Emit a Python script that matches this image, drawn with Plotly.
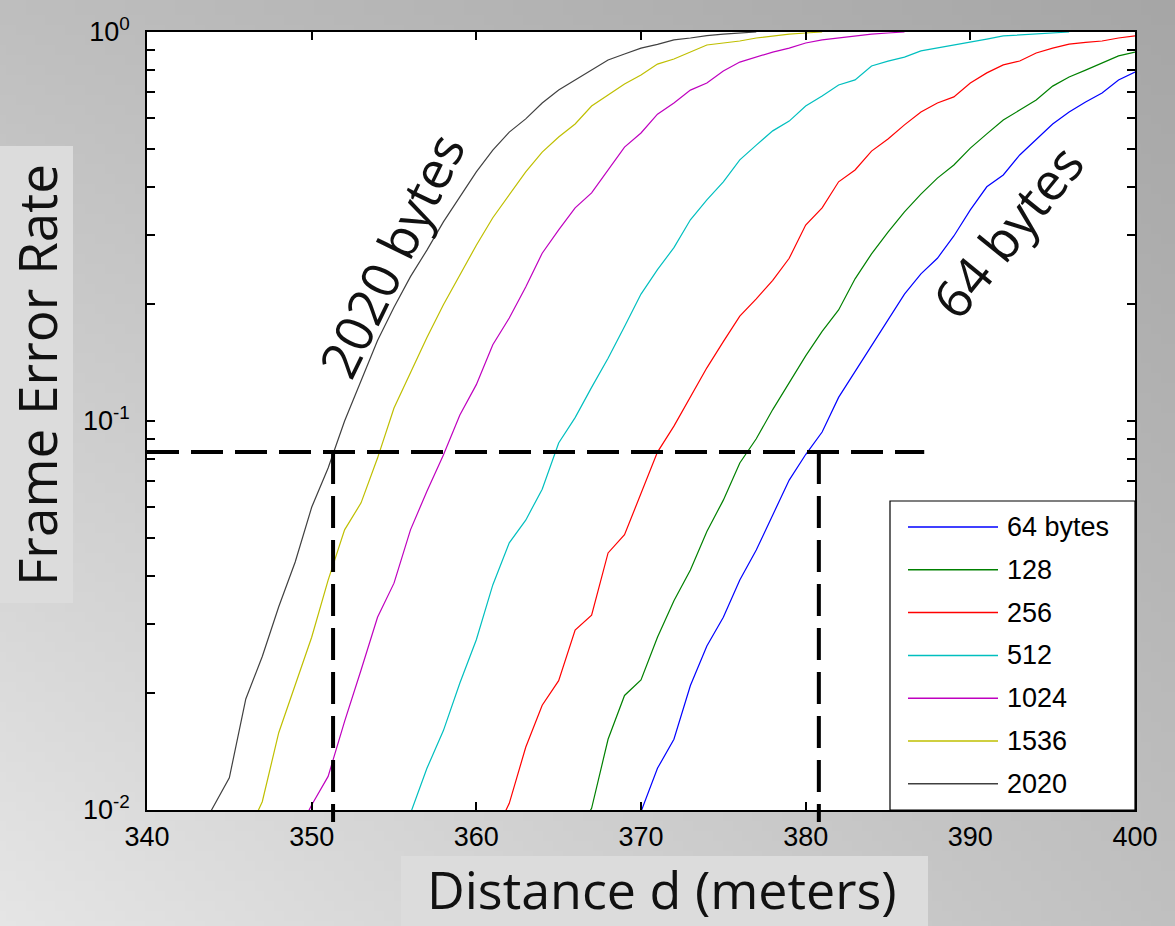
import base64
import math
import struct
import zlib

import plotly.graph_objects as go

# ---------------- data ----------------
labels = ["64 bytes", "128", "256", "512", "1024", "1536", "2020"]
colors = ["#0000ff", "#008000", "#ff0000", "#00bfbf", "#bf00bf", "#bfbf00", "#404040"]

d_64 = list(range(369, 401))
fer_64 = [0.0085, 0.0099, 0.0128, 0.0152, 0.0209, 0.0264, 0.0313, 0.039, 0.0466, 0.0573,
          0.0705, 0.082, 0.0937, 0.115, 0.134, 0.157, 0.182, 0.212, 0.239, 0.262,
          0.299, 0.349, 0.400, 0.429, 0.483, 0.528, 0.580, 0.623, 0.661, 0.697,
          0.753, 0.789]

d_128 = list(range(366, 401))
fer_128 = [0.0085, 0.0101, 0.0152, 0.0197, 0.0216, 0.0278, 0.0345, 0.0414, 0.052, 0.0626,
           0.078, 0.090, 0.107, 0.125, 0.147, 0.170, 0.193, 0.232, 0.269, 0.306,
           0.345, 0.383, 0.421, 0.455, 0.503, 0.547, 0.594, 0.630, 0.669, 0.726,
           0.766, 0.798, 0.832, 0.868, 0.888]

d_256 = list(range(361, 401))
fer_256 = [0.0085, 0.0104, 0.0145, 0.0186, 0.0215, 0.029, 0.0317, 0.0458, 0.051, 0.065,
           0.0832, 0.097, 0.115, 0.137, 0.160, 0.186, 0.206, 0.230, 0.262, 0.319,
           0.353, 0.412, 0.442, 0.494, 0.531, 0.577, 0.623, 0.657, 0.681, 0.739,
           0.785, 0.823, 0.842, 0.883, 0.909, 0.931, 0.940, 0.948, 0.965, 0.977]

d_512 = list(range(355, 397))
fer_512 = [0.0085, 0.0098, 0.0128, 0.016, 0.0212, 0.0274, 0.0379, 0.0486, 0.0556, 0.0668,
           0.0878, 0.102, 0.122, 0.145, 0.175, 0.212, 0.245, 0.279, 0.329, 0.370,
           0.412, 0.469, 0.512, 0.557, 0.590, 0.645, 0.685, 0.731, 0.753, 0.818,
           0.842, 0.862, 0.894, 0.909, 0.926, 0.942, 0.959, 0.977, 0.982, 0.988,
           0.994, 1.0]

d_1024 = list(range(349, 387))
fer_1024 = [0.0085, 0.0103, 0.0122, 0.0169, 0.0229, 0.0313, 0.0383, 0.0525, 0.066, 0.0818,
            0.1036, 0.124, 0.157, 0.184, 0.221, 0.270, 0.310, 0.353, 0.386, 0.442,
            0.506, 0.550, 0.615, 0.657, 0.709, 0.739, 0.794, 0.837, 0.862, 0.888,
            0.909, 0.937, 0.954, 0.965, 0.979, 0.988, 0.994, 1.0]

d_1536 = list(range(346, 382))
fer_1536 = [0.0085, 0.0105, 0.0158, 0.021, 0.0278, 0.039, 0.0525, 0.0616, 0.0803, 0.108,
            0.133, 0.164, 0.199, 0.237, 0.283, 0.333, 0.382, 0.437, 0.491, 0.537,
            0.580, 0.645, 0.689, 0.735, 0.775, 0.827, 0.852, 0.888, 0.926, 0.937,
            0.948, 0.965, 0.977, 0.988, 0.994, 1.0]

d_2020 = list(range(343, 378))
fer_2020 = [0.0085, 0.0101, 0.0121, 0.0193, 0.0248, 0.0333, 0.0434, 0.060, 0.0757, 0.100,
            0.127, 0.161, 0.196, 0.235, 0.275, 0.325, 0.377, 0.437, 0.497, 0.553,
            0.598, 0.657, 0.709, 0.753, 0.798, 0.847, 0.878, 0.909, 0.929, 0.954,
            0.965, 0.979, 0.988, 0.994, 1.0]

distances = [d_64, d_128, d_256, d_512, d_1024, d_1536, d_2020]
fers = [fer_64, fer_128, fer_256, fer_512, fer_1024, fer_1536, fer_2020]

x_ticks = [340, 350, 360, 370, 380, 390, 400]
y_ticks = [0.01, 0.1, 1]
y_ticktext = ["10<sup>-2</sup>", "10<sup>-1</sup>", "10<sup>0</sup>"]
y_minor = [0.02, 0.03, 0.04, 0.05, 0.06, 0.07, 0.08, 0.09,
           0.2, 0.3, 0.4, 0.5, 0.6, 0.7, 0.8, 0.9]

fer_threshold = 0.0832      # dashed horizontal reference level
d_cut_2020 = 351.3          # distance where 2020 bytes hits the threshold
d_cut_64 = 380.8            # distance where 64 bytes hits the threshold
d_hline_end = 387.2

# ---------------- geometry ----------------
W, H = 1175, 926
ML, MR, MT, MB = 147, 40, 32, 116
PW, PH = W - ML - MR, H - MT - MB
X_RANGE = (340, 400)
Y_RANGE = (-2, 0)


def px_x(px):
    return (px - ML) / PW


def px_y(py):
    return (H - MB - py) / PH


def dx(d):
    return (d - X_RANGE[0]) / (X_RANGE[1] - X_RANGE[0])


def fy(f):
    return (math.log10(f) - Y_RANGE[0]) / (Y_RANGE[1] - Y_RANGE[0])


# ---------------- background gradient (pure-python PNG) ----------------
def make_png(w, h, rows):
    def chunk(tag, data):
        return (struct.pack(">I", len(data)) + tag + data +
                struct.pack(">I", zlib.crc32(tag + data) & 0xFFFFFFFF))
    raw = b"".join(b"\x00" + bytes(r) for r in rows)
    return (b"\x89PNG\r\n\x1a\n" +
            chunk(b"IHDR", struct.pack(">IIBBBBB", w, h, 8, 0, 0, 0, 0)) +
            chunk(b"IDAT", zlib.compress(raw)) + chunk(b"IEND", b""))


GW, GH = 118, 93
TL, TR, BL, BR = 190, 166, 229, 192
rows = []
for j in range(GH):
    v = j / (GH - 1)
    row = []
    for i in range(GW):
        u = i / (GW - 1)
        val = (TL * (1 - u) * (1 - v) + TR * u * (1 - v) + BL * (1 - u) * v + BR * u * v)
        row.append(int(round(val)))
    rows.append(row)
bg_src = "data:image/png;base64," + base64.b64encode(make_png(GW, GH, rows)).decode()

# ---------------- figure ----------------
fig = go.Figure()
for d, f, name, c in zip(distances, fers, labels, colors):
    fig.add_trace(go.Scatter(x=d, y=f, mode="lines", name=name,
                             line=dict(color=c, width=1.2), showlegend=False))

shapes = []
# white plot area over the gradient
shapes.append(dict(type="rect", xref="paper", yref="paper", x0=0, x1=1, y0=0, y1=1,
                   fillcolor="white", line=dict(width=0), layer="below"))
# axis-title boxes
shapes.append(dict(type="rect", xref="paper", yref="paper",
                   x0=px_x(0), x1=px_x(73), y0=px_y(603), y1=px_y(146),
                   fillcolor="#dcdcdc", line=dict(width=0), layer="below"))
shapes.append(dict(type="rect", xref="paper", yref="paper",
                   x0=px_x(401), x1=px_x(928), y0=px_y(926), y1=px_y(856),
                   fillcolor="#dcdcdc", line=dict(width=0), layer="below"))
# dashed reference lines
dash_style = dict(color="black", width=4, dash="32px,12px")
shapes.append(dict(type="line", xref="paper", yref="paper",
                   x0=0, x1=dx(d_hline_end), y0=fy(fer_threshold), y1=fy(fer_threshold),
                   line=dash_style, layer="above"))
for dc in (d_cut_2020, d_cut_64):
    shapes.append(dict(type="line", xref="paper", yref="paper",
                       x0=dx(dc), x1=dx(dc), y0=fy(fer_threshold), y1=px_y(822),
                       line=dash_style, layer="above"))
# manual legend
shapes.append(dict(type="rect", xref="paper", yref="paper",
                   x0=px_x(890), x1=1.0, y0=0.0, y1=px_y(501),
                   fillcolor="white", line=dict(color="black", width=1.2), layer="above"))
annotations = []
row0, row_gap = 527, 42.8
for k, (name, c) in enumerate(zip(labels, colors)):
    yy = px_y(row0 + k * row_gap)
    shapes.append(dict(type="line", xref="paper", yref="paper",
                       x0=px_x(908), x1=px_x(998), y0=yy, y1=yy,
                       line=dict(color=c, width=1.5), layer="above"))
    annotations.append(dict(xref="paper", yref="paper", x=px_x(1005), y=yy,
                            text=name, showarrow=False, xanchor="left", yanchor="middle",
                            font=dict(family="Liberation Sans, Arial", size=27, color="black")))

# axis titles and curve labels
title_font = dict(family="Open Sans", size=52, color="#111111")
label_font = dict(family="Open Sans", size=52, color="#111111")
annotations.append(dict(xref="paper", yref="paper", x=px_x(36), y=px_y(375),
                        text="Frame Error Rate", textangle=-90, showarrow=False,
                        xanchor="center", yanchor="middle",
                        font=dict(family="Open Sans", size=53, color="#111111")))
annotations.append(dict(xref="paper", yref="paper", x=px_x(662), y=px_y(888),
                        text="Distance d (meters)", showarrow=False,
                        xanchor="center", yanchor="middle", font=title_font))
annotations.append(dict(xref="paper", yref="paper", x=px_x(390), y=px_y(255),
                        text="2020 bytes", textangle=-64, showarrow=False,
                        xanchor="center", yanchor="middle", font=label_font))
annotations.append(dict(xref="paper", yref="paper", x=px_x(1006), y=px_y(231),
                        text="64 bytes", textangle=-51, showarrow=False,
                        xanchor="center", yanchor="middle", font=label_font))

tick_font = dict(family="Liberation Sans, Arial", size=27, color="black")
fig.update_layout(
    width=W, height=H, autosize=False,
    margin=dict(l=ML, r=MR, t=MT, b=MB, pad=0),
    paper_bgcolor="#c8c8c8", plot_bgcolor="white",
    showlegend=False,
    shapes=shapes, annotations=annotations,
    images=[dict(source=bg_src, xref="paper", yref="paper",
                 x=px_x(0), y=px_y(0), sizex=W / PW, sizey=H / PH,
                 xanchor="left", yanchor="top", sizing="stretch", layer="below")],
    xaxis=dict(range=list(X_RANGE), tickvals=x_ticks, ticks="inside", ticklen=8,
               tickwidth=1.5, tickcolor="black", mirror="ticks", showline=True,
               linecolor="black", linewidth=1.5, showgrid=False, zeroline=False,
               tickfont=tick_font, ticklabelstandoff=2),
    yaxis=dict(type="log", range=list(Y_RANGE), tickvals=y_ticks, ticktext=y_ticktext,
               ticks="inside", ticklen=8, tickwidth=1.5, tickcolor="black",
               mirror="ticks", showline=True, linecolor="black", linewidth=1.5,
               showgrid=False, zeroline=False, tickfont=tick_font,
               ticklabelstandoff=10,
               minor=dict(tickvals=y_minor, ticks="inside", ticklen=8, tickwidth=1.5,
                          tickcolor="black", showgrid=False)),
)

fig.write_html("out.html")
